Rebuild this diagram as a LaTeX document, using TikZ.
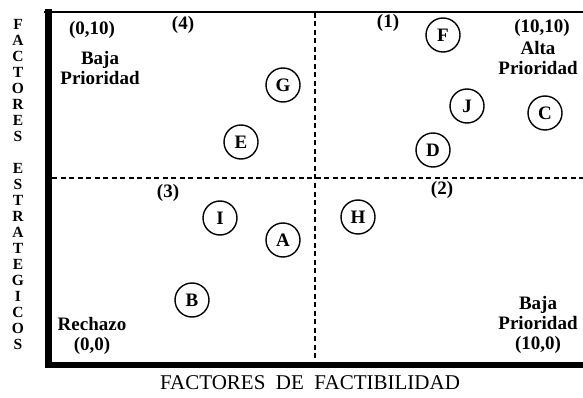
\documentclass[tikz,border=0pt]{standalone}
\usepackage{fontspec}
\setmainfont{Liberation Serif}
\begin{document}
\begin{tikzpicture}[x=1pt, y=-1pt,
        proj/.style={circle, draw, line width=1.4pt, minimum size=34pt, inner sep=0pt, font=\bfseries\fontsize{19}{20}\selectfont},
        lab/.style={align=center, inner sep=0pt, font=\bfseries\fontsize{19}{20}\selectfont},
        divide/.style={line width=2pt, dash pattern=on 5pt off 3.5pt}]
                    \useasboundingbox (0,0) rectangle (583,398);

                    \coordinate (TL) at (44, 12);
                    \coordinate (TR) at (583, 12);
                    \coordinate (LT) at (48, 9);
                    \coordinate (LB) at (48, 367.5);
                    \coordinate (BL) at (44.5, 364.5);
                    \coordinate (BR) at (583, 364.5);
                    \coordinate (VT) at (315, 13);
                    \coordinate (VB) at (315, 361);
                    \coordinate (HL) at (52, 178);
                    \coordinate (HR) at (583, 178);

                    \draw (TL) edge[line width=2.5pt] (TR);
                    \draw (LT) edge[line width=7pt] (LB);
                    \draw (BL) edge[line width=6pt] (BR);
                    \draw (VT) edge[divide] (VB);
                    \draw (HL) edge[divide] (HR);

                    \node (Q1) [lab] at (388, 23) {(1)};
                    \node (Q2) [lab] at (442, 190) {(2)};
                    \node (Q3) [lab] at (168, 193) {(3)};
                    \node (Q4) [lab] at (183, 25) {(4)};

                    \node (P010) [lab] at (92, 30) {(0,10)};
                    \node (BP1) [lab] at (100, 68) {Baja\\Prioridad};
                    \node (P1010) [lab] at (542, 28) {(10,10)};
                    \node (AP) [lab] at (538, 58) {Alta\\Prioridad};
                    \node (RZ) [lab] at (92, 336) {Rechazo\\(0,0)};
                    \node (BP2) [lab] at (538, 325) {Baja\\Prioridad\\(10,0)};

                    \node (F) [proj] at (443, 35) {F};
                    \node (G) [proj] at (283, 85) {G};
                    \node (J) [proj] at (467, 106) {J};
                    \node (C) [proj] at (545, 113) {C};
                    \node (E) [proj] at (241, 142) {E};
                    \node (D) [proj] at (433, 150) {D};
                    \node (I) [proj] at (220, 218) {I};
                    \node (H) [proj] at (358, 217) {H};
                    \node (A) [proj] at (283, 240) {A};
                    \node (B) [proj] at (192, 300) {B};

                    \node (YLAB) [align=center, inner sep=0pt, font=\bfseries\fontsize{15.5}{16}\selectfont] at (18, 184)
                        {F\\A\\C\\T\\O\\R\\E\\S\\[16pt]E\\S\\T\\R\\A\\T\\E\\G\\I\\C\\O\\S};
                    \node (XLAB) [inner sep=0pt, font=\fontsize{21}{23}\selectfont] at (310, 383)
                        {FACTORES\ \ DE\ \ FACTIBILIDAD};
                \end{tikzpicture}
\end{document}
